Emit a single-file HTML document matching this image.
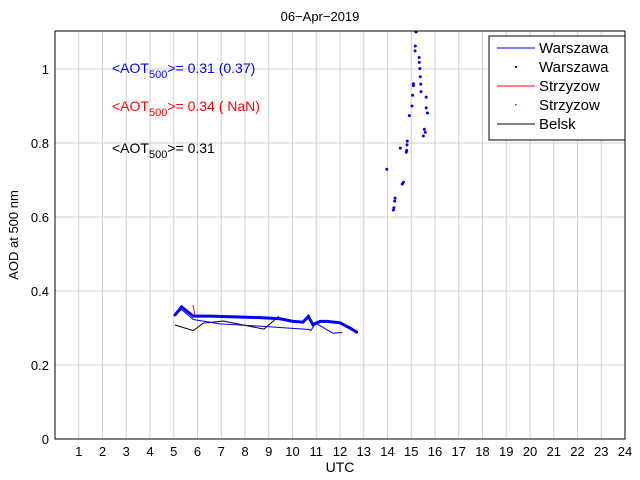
<!DOCTYPE html>
<html><head><meta charset="utf-8"><style>
body{margin:0;background:#fff;}
svg{display:block;font-family:"Liberation Sans",sans-serif;}
</style></head><body>
<svg id="chart" width="640" height="480">
<g id="grid"></g>
<g id="series"></g>
<rect x="55" y="31" width="570" height="408" fill="none" stroke="#000" stroke-width="1"/>
<g id="xt"></g>
<g id="yt"></g>
<text x="320" y="21" font-size="13" text-anchor="middle">06−Apr−2019</text>
<text x="340" y="472" font-size="14" text-anchor="middle">UTC</text>
<text transform="translate(18,235) rotate(-90)" font-size="13" text-anchor="middle">AOD at 500 nm</text>
<text x="112" y="73" font-size="14" fill="#0000ff">&lt;AOT<tspan font-size="11" dy="5">500</tspan><tspan dy="-5">&gt;= 0.31 (0.37)</tspan></text>
<text x="112" y="111" font-size="14" fill="#ff0000">&lt;AOT<tspan font-size="11" dy="5">500</tspan><tspan dy="-5">&gt;= 0.34 ( NaN)</tspan></text>
<text x="112" y="153" font-size="14" fill="#000">&lt;AOT<tspan font-size="11" dy="5">500</tspan><tspan dy="-5">&gt;= 0.31</tspan></text>
<g>
<rect x="489" y="36" width="136" height="104" fill="#fff" stroke="#000"/>
<line x1="497" y1="48" x2="535" y2="48" stroke="#0000ff"/><text x="539" y="53" font-size="15">Warszawa</text>
<rect x="515" y="66" width="2" height="2" fill="#0000ff"/><text x="539" y="72" font-size="15">Warszawa</text>
<line x1="497" y1="86" x2="535" y2="86" stroke="#ff0000"/><text x="539" y="91" font-size="15">Strzyzow</text>
<rect x="515" y="104" width="1.5" height="1.5" fill="#ff0000"/><text x="539" y="110" font-size="15">Strzyzow</text>
<line x1="497" y1="124" x2="535" y2="124" stroke="#000"/><text x="539" y="129" font-size="15">Belsk</text>
</g>
</svg>
<script>
const xTicks=[1,2,3,4,5,6,7,8,9,10,11,12,13,14,15,16,17,18,19,20,21,22,23,24];
const yTicks=[0,0.2,0.4,0.6,0.8,1];
const warDotsX=[5.05,5.33,5.82,6.53,7.58,8.63,9.47,10.02,10.44,10.67,10.86,11.16,11.44,12.0,12.42,12.7,
 15.2,15.17,15.16,15.33,15.34,15.36,15.38,15.09,15.09,15.40,15.41,15.06,15.63,15.03,15.63,15.68,14.92,15.55,15.59,15.51,14.83,14.82,14.54,14.81,14.79,13.97,14.67,14.62,14.32,14.30,14.27,14.25];
const warDotsY=[0.335,0.357,0.332,0.332,0.330,0.328,0.325,0.318,0.316,0.331,0.309,0.318,0.318,0.314,0.300,0.289,
 1.10,1.062,1.049,1.031,1.018,1.001,0.979,0.960,0.955,0.959,0.939,0.929,0.924,0.900,0.895,0.881,0.874,0.837,0.829,0.819,0.805,0.795,0.786,0.780,0.775,0.729,0.694,0.689,0.651,0.643,0.625,0.619];
const warLineX=[5.05,5.33,5.82,6.95,8.63,10.7,10.77,10.98,11.7,12.1];
const warLineY=[0.335,0.350,0.323,0.311,0.305,0.296,0.293,0.313,0.286,0.288];
const strLineX=[5.81,5.9];
const strLineY=[0.362,0.332];
const belX=[5.05,5.82,6.24,7.08,8.8,9.43];
const belY=[0.308,0.293,0.313,0.319,0.297,0.332];
const X=h=>55+h*23.75, Y=v=>439-v*370;
const NS="http://www.w3.org/2000/svg";
function mk(t,a,p){const e=document.createElementNS(NS,t);for(const k in a)e.setAttribute(k,a[k]);p.appendChild(e);return e;}
const grid=document.getElementById('grid'),xt=document.getElementById('xt'),yt=document.getElementById('yt'),ser=document.getElementById('series');
xTicks.forEach(h=>{
 const g=mk('line',{x1:X(h),x2:X(h),y1:31,y2:439,stroke:'#d0d0d0'},grid);
 
 
 const t=mk('text',{x:X(h),y:456,'font-size':13,'text-anchor':'middle'},xt);t.textContent=h;
 
 
});
yTicks.forEach(v=>{
 if(v>0){const g=mk('line',{x1:55,x2:625,y1:Y(v),y2:Y(v),stroke:'#d0d0d0'},grid);
 
 }
 const t=mk('text',{x:49,y:Y(v)+5,'font-size':13,'text-anchor':'end'},yt);t.textContent=v===0?'0':String(v);
 
 
});
function line(xs,ys,c,name){const p=mk('polyline',{points:xs.map((x,i)=>X(x)+','+Y(ys[i])).join(' '),fill:'none',stroke:c,'stroke-width':1},ser);
 
 }
line(belX,belY,'#000','belsk-line');
line(warLineX,warLineY,'#0000ff','warszawa-line');
line(strLineX,strLineY,'#ff0000','strzyzow-line');
const bandX=warDotsX.slice(0,16),bandY=warDotsY.slice(0,16);
const b=mk('polyline',{points:bandX.map((x,i)=>X(x)+','+Y(bandY[i])).join(' '),fill:'none',stroke:'#0000ff','stroke-width':3},ser);


warDotsX.forEach((x,i)=>{
 const c=mk('circle',{cx:X(x),cy:Y(warDotsY[i]),r:1.5,fill:'#0000ff'},ser);
 
 
});
</script>
</body></html>
